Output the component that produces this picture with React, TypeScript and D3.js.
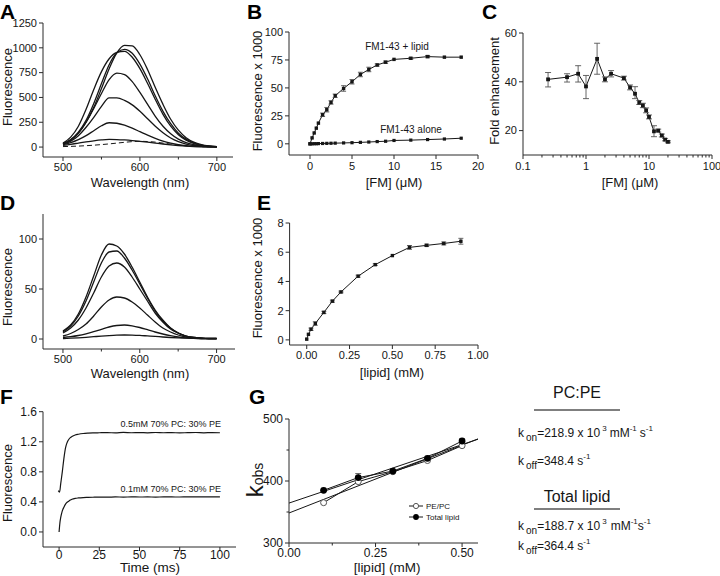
import * as d3 from "d3";

const FONT = "'Liberation Sans', Arial, Helvetica, sans-serif";
const INK = "#161616";
const AX = "#2a2a2a";
const ERR = "#555";

// ---- A: emission spectra, FM1-43 with increasing lipid ----
const wavelengths = [500, 510, 520, 530, 540, 550, 560, 570, 580, 590, 600, 610, 620, 630, 640, 650, 660, 670, 680, 690, 700];
const spectraA = [
  [35, 70, 140, 250, 400, 590, 790, 950, 1025, 1020, 930, 780, 600, 430, 280, 170, 95, 50, 25, 12, 5],
  [35, 75, 150, 270, 440, 640, 830, 950, 985, 945, 835, 685, 515, 360, 235, 140, 80, 42, 20, 10, 4],
  [40, 100, 210, 380, 580, 760, 890, 955, 965, 905, 790, 640, 480, 330, 210, 125, 70, 36, 18, 8, 4],
  [30, 70, 140, 250, 390, 540, 680, 745, 730, 660, 550, 430, 310, 210, 135, 80, 45, 24, 12, 6, 3],
  [30, 60, 115, 200, 300, 410, 495, 495, 470, 425, 360, 285, 210, 145, 92, 55, 30, 16, 8, 4, 2],
  [25, 45, 75, 115, 165, 215, 245, 240, 220, 190, 155, 120, 88, 60, 40, 25, 15, 8, 4, 2, 1],
  [18, 28, 40, 52, 63, 72, 77, 76, 72, 66, 58, 49, 40, 31, 23, 16, 10, 6, 4, 2, 1],
];
const dashedA = [5, 7, 10, 14, 19, 25, 32, 40, 48, 55, 58, 56, 50, 40, 30, 20, 12, 7, 4, 2, 1];

// ---- D: spectra with increasing dye ----
const spectraD = [
  [8, 14, 25, 42, 63, 84, 95, 93, 85, 72, 57, 42, 29, 19, 11, 6, 3, 1.5, 0.8, 0.5, 0.5],
  [7, 13, 23, 38, 57, 76, 87, 88, 81, 69, 55, 41, 28, 18, 11, 6, 3, 1.5, 0.8, 0.5, 0.5],
  [6, 11, 19, 31, 46, 62, 73, 76, 72, 62, 50, 38, 26, 17, 10, 6, 3, 1.5, 0.8, 0.5, 0.5],
  [3, 5.5, 9.5, 15, 23, 32, 39, 42, 41, 37, 31, 24, 17, 11, 7, 4, 2, 1, 0.5, 0.3, 0.3],
  [1.5, 2.3, 3.5, 5.2, 7.3, 9.7, 12, 13.5, 14, 13.2, 11.5, 9.3, 7, 5, 3.3, 2, 1.2, 0.7, 0.4, 0.3, 0.3],
  [0.5, 0.8, 1.2, 1.7, 2.3, 2.9, 3.4, 3.8, 4, 3.9, 3.6, 3.1, 2.6, 2, 1.5, 1.1, 0.8, 0.6, 0.5, 0.4, 0.4],
];

// ---- B: fluorescence vs [FM] ----
const fmConc = [0, 0.25, 0.5, 0.75, 1, 1.5, 2, 2.5, 3, 4, 5, 6, 7, 8, 9, 10, 12, 14, 16, 18];
const fmWithLipid = [0, 5.3, 9.7, 14, 18.5, 26, 30.5, 37, 43, 49.5, 55.5, 62, 66.5, 70.5, 73, 75.5, 76.5, 78, 77.5, 77.5];
const fmWithLipidErr = [0, 0, 0, 0, 0, 1.5, 2, 1.5, 1.5, 2.5, 2, 2, 2, 1, 1, 0.6, 0.8, 1, 0.6, 0.6];
const fmAlone = [0, 0, 0.1, 0.1, 0.2, 0.3, 0.4, 0.5, 0.6, 0.8, 1, 1.3, 1.6, 2, 2.3, 3, 3.3, 3.8, 4.3, 5];

// ---- C: fold enhancement ----
const foldConc = [0.25, 0.5, 0.75, 1, 1.5, 2, 2.5, 4, 5, 6, 7, 8, 9, 10, 12, 14, 16, 18, 20];
const foldVal = [41, 41.9, 43.3, 38.1, 49.4, 41, 43.3, 41.5, 37.7, 35.1, 31.5, 30.3, 28.3, 25.6, 19.7, 20, 18, 16.3, 15.4];
const foldHi = [43.8, 43.3, 46.6, 42.6, 55.8, 42, 44.6, 42.3, 38.7, 38, 32.3, 31.2, 29.3, 26.4, 22, 20.6, 18.6, 16.8, 15.8];
const foldLo = [37.9, 39.9, 39.9, 33.1, 43.1, 40, 42, 40.7, 36.7, 33.1, 30.7, 29.4, 27.3, 24.8, 17.5, 19.4, 17.4, 15.8, 15];

// ---- E: fluorescence vs [lipid] ----
const lipidConc = [0, 0.01, 0.025, 0.05, 0.1, 0.15, 0.2, 0.3, 0.4, 0.5, 0.6, 0.7, 0.8, 0.9];
const lipidFluo = [0.05, 0.38, 0.73, 1.12, 1.88, 2.65, 3.28, 4.36, 5.15, 5.77, 6.33, 6.47, 6.6, 6.75];
const lipidErr = [0.05, 0.05, 0.08, 0.12, 0.08, 0.07, 0.06, 0.07, 0.06, 0.05, 0.13, 0.08, 0.1, 0.2];

// ---- F: stopped-flow traces ----
const tHigh = [-0.5, 0.3, 1, 2, 3, 4, 5, 6, 7, 8, 10, 12, 15, 18, 21, 25, 30, 35, 40, 45, 50, 55, 60, 65, 70, 75, 80, 85, 90, 95, 100];
const fHigh = [0.55, 0.53, 0.64, 0.8, 0.98, 1.12, 1.19, 1.23, 1.255, 1.27, 1.29, 1.3, 1.31, 1.315, 1.318, 1.32, 1.322, 1.318, 1.324, 1.32, 1.322, 1.319, 1.323, 1.32, 1.322, 1.318, 1.321, 1.323, 1.319, 1.322, 1.32];
const tLow = [0, 0.5, 1, 1.5, 2, 3, 4, 5, 6, 7, 8, 10, 12, 15, 18, 21, 25, 30, 35, 40, 45, 50, 55, 60, 65, 70, 75, 80, 85, 90, 95, 100];
const fLow = [0.0, 0.12, 0.19, 0.24, 0.28, 0.33, 0.37, 0.395, 0.41, 0.425, 0.435, 0.447, 0.453, 0.458, 0.46, 0.462, 0.464, 0.463, 0.466, 0.464, 0.467, 0.465, 0.466, 0.464, 0.467, 0.466, 0.465, 0.468, 0.466, 0.467, 0.466, 0.467];

// ---- G: kobs vs [lipid] ----
const gLipid = [0.1, 0.2, 0.3, 0.4, 0.5];
const gPEPC = [365, 399, 415, 433, 457];
const gTotal = [385, 405.5, 416, 436.5, 464.5];
const gTotalErr = [1.5, 6.5, 1.5, 1.5, 3];
const fitX = [0, 0.546];
const fitPEPC = [348.4, 467.9];
const fitTotal = [364.4, 467.4];

type Lin = (v: number) => number;

function Axes(props: any) {
  const { x, y, xTicks, yTicks, xMinor = [], yMinor = [], xFmt = String, yFmt = String, fs = 11, xGap = 14 } = props;
  const [x0, x1] = x.range();
  const [yb, yt] = y.range();
  return (
    <g>
      <g stroke={AX} strokeWidth={1} fill="none">
        <line x1={x0} x2={x0} y1={yt} y2={yb} />
        <line x1={x0} x2={x1} y1={yb} y2={yb} />
        {yTicks.map((t: number) => <line key={"yt" + t} x1={x0 - 4} x2={x0} y1={y(t)} y2={y(t)} />)}
        {yMinor.map((t: number) => <line key={"ym" + t} x1={x0 - 2.5} x2={x0} y1={y(t)} y2={y(t)} />)}
        {xTicks.map((t: number) => <line key={"xt" + t} x1={x(t)} x2={x(t)} y1={yb} y2={yb + 4} />)}
        {xMinor.map((t: number) => <line key={"xm" + t} x1={x(t)} x2={x(t)} y1={yb} y2={yb + 2.5} />)}
      </g>
      <g fill={INK} fontSize={fs} fontFamily={FONT}>
        {yTicks.map((t: number) => (
          <text key={"yl" + t} x={x0 - 6} y={y(t)} dy="0.35em" textAnchor="end">{yFmt(t)}</text>
        ))}
        {xTicks.map((t: number) => (
          <text key={"xl" + t} x={x(t)} y={yb + xGap} textAnchor="middle">{xFmt(t)}</text>
        ))}
      </g>
    </g>
  );
}

function Spectra({ x, y, sets, dashed }: { x: Lin; y: Lin; sets: number[][]; dashed?: number[] }) {
  const line = (vals: number[]) =>
    d3.line<number>().x((_, i) => x(wavelengths[i])).y((v) => y(v)).curve(d3.curveMonotoneX)(vals) || "";
  return (
    <g fill="none" stroke={INK} strokeWidth={1.3}>
      {sets.map((s, i) => <path key={i} d={line(s)} />)}
      {dashed && <path d={line(dashed)} strokeWidth={1} strokeDasharray="5,3" />}
    </g>
  );
}

function ErrBar({ cx, lo, hi, w = 2.5 }: { cx: number; lo: number; hi: number; w?: number }) {
  if (Math.abs(lo - hi) < 1.5) return null;
  return (
    <g stroke={ERR} strokeWidth={0.9}>
      <line x1={cx} x2={cx} y1={lo} y2={hi} />
      <line x1={cx - w} x2={cx + w} y1={lo} y2={lo} />
      <line x1={cx - w} x2={cx + w} y1={hi} y2={hi} />
    </g>
  );
}

function Sq({ cx, cy, s = 3.6 }: { cx: number; cy: number; s?: number }) {
  return <rect x={cx - s / 2} y={cy - s / 2} width={s} height={s} fill={INK} />;
}

function Letter({ x, y, t }: { x: number; y: number; t: string }) {
  return <text x={x} y={y} fontSize={21} fontWeight="bold" fontFamily={FONT} fill="#000">{t}</text>;
}

function YLabel({ x, y, t, fs = 13 }: { x: number; y: number; t: string; fs?: number }) {
  return (
    <text transform={`translate(${x},${y}) rotate(-90)`} textAnchor="middle" fontSize={fs} fontFamily={FONT} fill={INK}>{t}</text>
  );
}

function XLabel({ x, y, t, fs = 13 }: { x: number; y: number; t: string; fs?: number }) {
  return <text x={x} y={y} textAnchor="middle" fontSize={fs} fontFamily={FONT} fill={INK}>{t}</text>;
}

export default function App() {
  // A
  const xA = d3.scaleLinear().domain([474, 721]).range([43, 233]);
  const yA = d3.scaleLinear().domain([-100, 1250]).range([157, 23]);
  // B
  const xB = d3.scaleLinear().domain([-2.5, 20]).range([289, 478]);
  const yB = d3.scaleLinear().domain([-10, 100]).range([155, 32]);
  // C
  const xC = d3.scaleLog().domain([0.1, 100]).range([523, 712]);
  const yC = d3.scaleLinear().domain([10, 60]).range([155, 33]);
  // D
  const xD = d3.scaleLinear().domain([474, 724]).range([43, 235]);
  const yD = d3.scaleLinear().domain([-10, 125]).range([349, 214]);
  // E
  const xE = d3.scaleLinear().domain([-0.1, 1.0]).range([289.6, 478]);
  const yE = d3.scaleLinear().domain([-0.35, 8]).range([345, 223]);
  // F
  const xF = d3.scaleLinear().domain([-10, 110]).range([43, 236]);
  const yF = d3.scaleLinear().domain([-0.2, 1.6]).range([547, 411.7]);
  // G
  const xG = d3.scaleLinear().domain([0, 0.546]).range([289, 478]);
  const yG = d3.scaleLinear().domain([300, 500]).range([543, 419]);

  const lineB = d3.line<number>().x((_, i) => xB(fmConc[i])).y((v) => yB(v));
  const lineC = d3.line<number>().x((_, i) => xC(foldConc[i])).y((v) => yC(v));
  const lineE = d3.line<number>().x((_, i) => xE(lipidConc[i])).y((v) => yE(v));
  const lineFH = d3.line<number>().x((_, i) => xF(tHigh[i])).y((v) => yF(v)).curve(d3.curveMonotoneX);
  const lineFL = d3.line<number>().x((_, i) => xF(tLow[i])).y((v) => yF(v)).curve(d3.curveMonotoneX);
  const lineG = d3.line<number>().x((_, i) => xG(gLipid[i])).y((v) => yG(v));
  const fitLine = d3.line<number>().x((_, i) => xG(fitX[i])).y((v) => yG(v));

  const f2 = d3.format(".2f");
  const f1 = d3.format(".1f");
  const cMajor = [0.1, 1, 10, 100];
  const cMinor = xC.ticks().filter((t) => !cMajor.some((m) => Math.abs(m - t) < 1e-9));

  return (
    <svg width={720} height={576} style={{ position: "absolute", left: 0, top: 0, background: "#fff" }}>
      <rect width={720} height={576} fill="#fff" />

      {/* A */}
      <Letter x={0} y={19} t="A" />
      <Axes x={xA} y={yA} xTicks={[500, 600, 700]} xMinor={[550, 650]} yTicks={[0, 250, 500, 750, 1000, 1250]} />
      <Spectra x={xA} y={yA} sets={spectraA} dashed={dashedA} />
      <YLabel x={12} y={87} t="Fluorescence" />
      <XLabel x={140} y={187} t="Wavelength (nm)" />

      {/* B */}
      <Letter x={247} y={19} t="B" />
      <Axes x={xB} y={yB} xTicks={[0, 5, 10, 15, 20]} yTicks={[0, 25, 50, 75, 100]} xGap={15} />
      <path d={lineB(fmWithLipid) || ""} fill="none" stroke={INK} strokeWidth={1} />
      <path d={lineB(fmAlone) || ""} fill="none" stroke={INK} strokeWidth={1} />
      {fmConc.map((c, i) => (
        <g key={"b" + i}>
          <ErrBar cx={xB(c)} lo={yB(fmWithLipid[i] - fmWithLipidErr[i])} hi={yB(fmWithLipid[i] + fmWithLipidErr[i])} />
          <Sq cx={xB(c)} cy={yB(fmWithLipid[i])} s={3.4} />
          <Sq cx={xB(c)} cy={yB(fmAlone[i])} s={3.2} />
        </g>
      ))}
      <text x={397} y={50} textAnchor="middle" fontSize={10} fontFamily={FONT} fill={INK}>FM1-43 + lipid</text>
      <text x={411} y={133} textAnchor="middle" fontSize={10} fontFamily={FONT} fill={INK}>FM1-43 alone</text>
      <YLabel x={262} y={91} t="Fluorescence x 1000" />
      <XLabel x={394} y={187} t="[FM] (μM)" />

      {/* C */}
      <Letter x={482} y={19} t="C" />
      <Axes x={xC} y={yC} xTicks={cMajor} xMinor={cMinor} yTicks={[20, 40, 60]} xFmt={(t: number) => String(t)} xGap={15} />
      <path d={lineC(foldVal) || ""} fill="none" stroke={INK} strokeWidth={1} />
      {foldConc.map((c, i) => (
        <g key={"c" + i}>
          <ErrBar cx={xC(c)} lo={yC(foldLo[i])} hi={yC(foldHi[i])} w={3} />
          <Sq cx={xC(c)} cy={yC(foldVal[i])} s={3.8} />
        </g>
      ))}
      <YLabel x={499} y={91} t="Fold enhancement" />
      <XLabel x={630} y={187} t="[FM] (μM)" />

      {/* D */}
      <Letter x={0} y={210} t="D" />
      <Axes x={xD} y={yD} xTicks={[500, 600, 700]} xMinor={[550, 650]} yTicks={[0, 50, 100]} />
      <Spectra x={xD} y={yD} sets={spectraD} />
      <YLabel x={12} y={287} t="Fluorescence" />
      <XLabel x={140} y={378} t="Wavelength (nm)" />

      {/* E */}
      <Letter x={257} y={210} t="E" />
      <Axes x={xE} y={yE} xTicks={[0, 0.25, 0.5, 0.75, 1]} yTicks={[0, 2, 4, 6, 8]} xFmt={f2} />
      <path d={lineE(lipidFluo) || ""} fill="none" stroke={INK} strokeWidth={1} />
      {lipidConc.map((c, i) => (
        <g key={"e" + i}>
          <ErrBar cx={xE(c)} lo={yE(lipidFluo[i] - lipidErr[i])} hi={yE(lipidFluo[i] + lipidErr[i])} />
          <Sq cx={xE(c)} cy={yE(lipidFluo[i])} s={3.4} />
        </g>
      ))}
      <YLabel x={262} y={278} t="Fluorescence x 1000" />
      <XLabel x={392} y={377} t="[lipid] (mM)" />

      {/* F */}
      <Letter x={0} y={404} t="F" />
      <Axes x={xF} y={yF} xTicks={[0, 25, 50, 75, 100]} yTicks={[0, 0.4, 0.8, 1.2, 1.6]} yFmt={f1} fs={12} xGap={11.5} />
      <path d={lineFH(fHigh) || ""} fill="none" stroke={INK} strokeWidth={1.2} />
      <path d={lineFL(fLow) || ""} fill="none" stroke={INK} strokeWidth={1.2} />
      <text x={221} y={427} textAnchor="end" fontSize={9} fontFamily={FONT} fill={INK}>0.5mM 70% PC: 30% PE</text>
      <text x={221} y={492} textAnchor="end" fontSize={9} fontFamily={FONT} fill={INK}>0.1mM 70% PC: 30% PE</text>
      <YLabel x={12} y={483} t="Fluorescence" />
      <XLabel x={150} y={572} t="Time (ms)" fs={13.5} />

      {/* G */}
      <Letter x={249} y={404} t="G" />
      <Axes x={xG} y={yG} xTicks={[0, 0.25, 0.5]} xMinor={[0.125, 0.375]} yTicks={[300, 400, 500]} yMinor={[350, 450]} xFmt={f2} fs={12} xGap={14} />
      <path d={fitLine(fitPEPC) || ""} fill="none" stroke={INK} strokeWidth={1} />
      <path d={fitLine(fitTotal) || ""} fill="none" stroke={INK} strokeWidth={1} />
      <path d={lineG(gPEPC) || ""} fill="none" stroke={INK} strokeWidth={1} />
      <path d={lineG(gTotal) || ""} fill="none" stroke={INK} strokeWidth={1} />
      {gLipid.map((c, i) => (
        <g key={"g" + i}>
          <ErrBar cx={xG(c)} lo={yG(gTotal[i] - gTotalErr[i])} hi={yG(gTotal[i] + gTotalErr[i])} w={3} />
          <circle cx={xG(c)} cy={yG(gPEPC[i])} r={3} fill="#fff" stroke="#555" strokeWidth={1} />
          <circle cx={xG(c)} cy={yG(gTotal[i])} r={3.4} fill="#000" />
        </g>
      ))}
      <g fontSize={8} fontFamily={FONT} fill={INK}>
        <line x1={409} x2={423} y1={506} y2={506} stroke={INK} />
        <circle cx={416} cy={506} r={2.6} fill="#fff" stroke="#555" />
        <text x={426} y={506} dy="0.35em">PE/PC</text>
        <line x1={409} x2={423} y1={517} y2={517} stroke={INK} />
        <circle cx={416} cy={517} r={2.9} fill="#000" />
        <text x={426} y={517} dy="0.35em">Total lipid</text>
      </g>
      <text transform="translate(263,480) rotate(-90)" textAnchor="middle" fontFamily={FONT} fill={INK}>
        <tspan fontSize={24}>k</tspan>
        <tspan fontSize={14}>obs</tspan>
      </text>
      <XLabel x={387} y={572} t="[lipid] (mM)" fs={13.5} />

      {/* rate constants */}
      <g fontFamily={FONT} fill={INK}>
        <text x={577} y={398} textAnchor="middle" fontSize={16}>PC:PE</text>
        <line x1={534} x2={620} y1={410} y2={410} stroke="#000" strokeWidth={1.2} />
        <text x={518} y={437} fontSize={12}>
          k<tspan fontSize={10} dx={2} dy={4}>on</tspan>
          <tspan dy={-4}>=218.9 x 10</tspan>
          <tspan fontSize={8} dx={2} dy={-6}>3</tspan>
          <tspan dy={6} dx={3}>mM</tspan>
          <tspan fontSize={8} dy={-6}>-1</tspan>
          <tspan dy={6} dx={3}>s</tspan>
          <tspan fontSize={8} dy={-6}>-1</tspan>
        </text>
        <text x={518} y={465} fontSize={12}>
          k<tspan fontSize={10} dx={2} dy={4}>off</tspan>
          <tspan dy={-4}>=348.4 s</tspan>
          <tspan fontSize={8} dy={-6}>-1</tspan>
        </text>
        <text x={577} y={502} textAnchor="middle" fontSize={16}>Total lipid</text>
        <line x1={534} x2={620} y1={509} y2={509} stroke="#000" strokeWidth={1.2} />
        <text x={518} y={530} fontSize={12}>
          k<tspan fontSize={10} dx={2} dy={4}>on</tspan>
          <tspan dy={-4}>=188.7 x 10</tspan>
          <tspan fontSize={8} dx={2} dy={-6}>3</tspan>
          <tspan dy={6} dx={4}>mM</tspan>
          <tspan fontSize={8} dy={-6}>-1</tspan>
          <tspan dy={6}>s</tspan>
          <tspan fontSize={8} dy={-6}>-1</tspan>
        </text>
        <text x={518} y={550} fontSize={12}>
          k<tspan fontSize={10} dx={2} dy={4}>off</tspan>
          <tspan dy={-4}>=364.4 s</tspan>
          <tspan fontSize={8} dy={-6}>-1</tspan>
        </text>
      </g>
    </svg>
  );
}
